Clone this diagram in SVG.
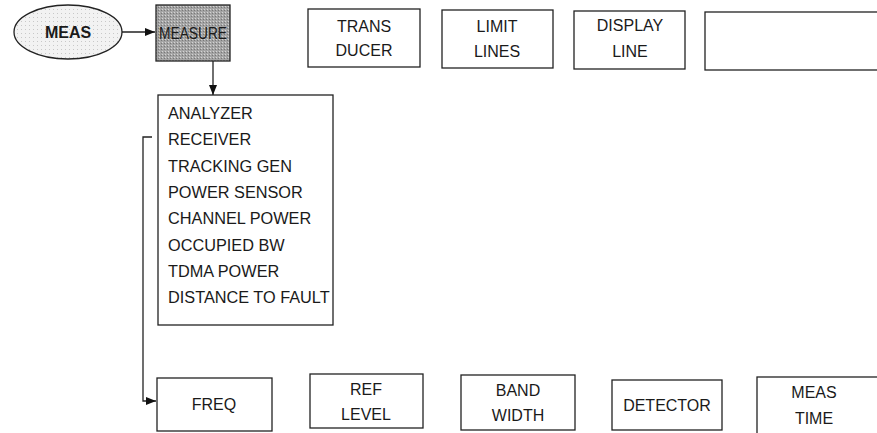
<svg xmlns="http://www.w3.org/2000/svg" width="877" height="433" viewBox="0 0 877 433">
<defs>
<marker id="ah" markerWidth="10" markerHeight="8" refX="10" refY="4" orient="auto" markerUnits="userSpaceOnUse">
<path d="M0,0 L10,4 L0,8 Z" fill="#111"/>
</marker>
<pattern id="dots" width="4" height="4" patternUnits="userSpaceOnUse">
<rect width="4" height="4" fill="#f2f2f2"/>
<rect x="1" y="1" width="1" height="1" fill="#c8c8c8"/>
</pattern>
<pattern id="grey" width="3" height="3" patternUnits="userSpaceOnUse">
<rect width="3" height="3" fill="#a4a4a4"/>
<rect x="0" y="0" width="1" height="1" fill="#d4d4d4"/>
<rect x="2" y="1" width="1" height="1" fill="#787878"/>
</pattern>
</defs>
<style>
.box{fill:#fff;stroke:#222;stroke-width:1.3}
.t{font-family:"Liberation Sans",Arial,sans-serif;font-size:16px;fill:#1a1a1a;text-anchor:middle}
.l{font-family:"Liberation Sans",Arial,sans-serif;font-size:16.3px;fill:#1a1a1a}
.c{fill:none;stroke:#222;stroke-width:1.3}
</style>
<rect width="877" height="433" fill="#fff"/>
<g id="meas">
<ellipse cx="68" cy="32" rx="54" ry="27" fill="url(#dots)" stroke="#222" stroke-width="1.3"/>
<text class="t" x="68" y="38" font-weight="bold">MEAS</text>
</g>
<g id="measure">
<rect x="156" y="5" width="74" height="56" fill="url(#grey)" stroke="#222" stroke-width="1.3"/>
<text class="t" x="193" y="39" font-size="18" fill="#111" textLength="68" lengthAdjust="spacingAndGlyphs">MEASURE</text>
</g>
<g id="transducer">
<rect class="box" x="308" y="9" width="112" height="58"/>
<text class="t" x="364" y="32">TRANS</text>
<text class="t" x="364" y="56">DUCER</text>
</g>
<g id="limitlines">
<rect class="box" x="442" y="10" width="111" height="58"/>
<text class="t" x="497" y="32">LIMIT</text>
<text class="t" x="497" y="57">LINES</text>
</g>
<g id="displayline">
<rect class="box" x="574" y="11" width="111" height="58"/>
<text class="t" x="630" y="31">DISPLAY</text>
<text class="t" x="630" y="57">LINE</text>
</g>
<g id="empty">
<rect class="box" x="705" y="12" width="180" height="58"/>
</g>
<g id="modes">
<rect class="box" x="158" y="95" width="175" height="230"/>
<text class="l" x="168" y="119">ANALYZER</text>
<text class="l" x="168" y="145">RECEIVER</text>
<text class="l" x="168" y="172">TRACKING GEN</text>
<text class="l" x="168" y="198">POWER SENSOR</text>
<text class="l" x="168" y="224">CHANNEL POWER</text>
<text class="l" x="168" y="251">OCCUPIED BW</text>
<text class="l" x="168" y="277">TDMA POWER</text>
<text class="l" x="168" y="303">DISTANCE TO FAULT</text>
</g>
<g id="freq">
<rect class="box" x="157" y="378" width="115" height="53"/>
<text class="t" x="214" y="410">FREQ</text>
</g>
<g id="reflevel">
<rect class="box" x="310" y="374" width="113" height="54"/>
<text class="t" x="366" y="395">REF</text>
<text class="t" x="366" y="420">LEVEL</text>
</g>
<g id="bandwidth">
<rect class="box" x="461" y="375" width="114" height="55"/>
<text class="t" x="518" y="396">BAND</text>
<text class="t" x="518" y="421">WIDTH</text>
</g>
<g id="detector">
<rect class="box" x="612" y="380" width="110" height="50"/>
<text class="t" x="667" y="411">DETECTOR</text>
</g>
<g id="meastime">
<rect class="box" x="757" y="377" width="125" height="60"/>
<text class="t" x="814" y="398">MEAS</text>
<text class="t" x="814" y="424">TIME</text>
</g>
<g id="connectors">
<line class="c" x1="122" y1="32" x2="155" y2="32" marker-end="url(#ah)"/>
<line class="c" x1="213" y1="61" x2="213" y2="95" marker-end="url(#ah)"/>
<polyline class="c" points="152,137 143,137 143,401 156,401" marker-end="url(#ah)"/>
</g>
</svg>
